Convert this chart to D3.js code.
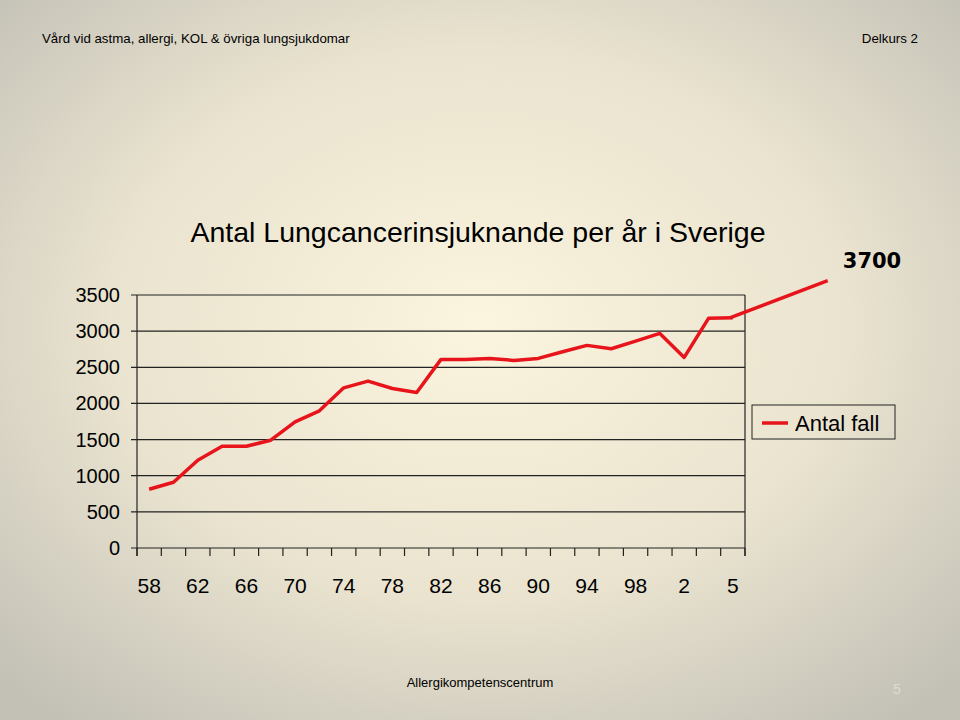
<!DOCTYPE html>
<html><head><meta charset="utf-8">
<script src="https://cdn.jsdelivr.net/npm/d3@7"></script>
<style>body{margin:0}svg{display:block}</style></head>
<body><svg id="c" width="960" height="720"></svg>
<script>
const categories = ["58","60","62","64","66","68","70","72","74","76","78","80","82","84","86","88","90","92","94","96","98","00","2","03","5"];
const tickLabels = ["58","62","66","70","74","78","82","86","90","94","98","2","5"];
const values = [813,910,1214,1408,1408,1491,1745,1898,2216,2309,2207,2152,2609,2609,2623,2595,2623,2715,2803,2757,2863,2969,2637,3177,3186];
const projection = [[23.9,3186],[27.9,3700]];
const yTicks = [0,500,1000,1500,2000,2500,3000,3500];

const svg = d3.select("#c");
const defs = svg.append("defs");
const g = defs.append("radialGradient").attr("id","bg").attr("cx","50%").attr("cy","45%").attr("r","70%");
g.append("stop").attr("offset","0%").attr("stop-color","#fbf5df");
g.append("stop").attr("offset","55%").attr("stop-color","#e9e3cf");
g.append("stop").attr("offset","100%").attr("stop-color","#c3c0b6");
svg.append("rect").attr("width",960).attr("height",720).attr("fill","url(#bg)");

const F = "Liberation Sans, Arial, sans-serif";
svg.append("text").attr("x",42).attr("y",43).attr("font-family",F).attr("font-size",13.3).text("Vård vid astma, allergi, KOL & övriga lungsjukdomar");
svg.append("text").attr("x",918).attr("y",43).attr("text-anchor","end").attr("font-family",F).attr("font-size",13.3).text("Delkurs 2");
svg.append("text").attr("x",478).attr("y",242).attr("text-anchor","middle").attr("font-family",F).attr("font-size",28.5).text("Antal Lungcancerinsjuknande per år i Sverige");
svg.append("text").attr("x",480).attr("y",687).attr("text-anchor","middle").attr("font-family",F).attr("font-size",13).text("Allergikompetenscentrum");
svg.append("text").attr("x",897).attr("y",694).attr("text-anchor","middle").attr("font-family",F).attr("font-size",14).attr("fill","#e0dccd").text("5");

const L=137,R=745,T=295,B=548;
const n=categories.length, step=(R-L)/n;
const x = d3.scaleLinear().domain([0,1]).range([L+step/2,L+step*1.5]);
const y = d3.scaleLinear().domain([0,3500]).range([B,T]);

svg.append("g").selectAll("line").data(yTicks).join("line")
 .attr("x1",L-6).attr("x2",R).attr("y1",d=>y(d)).attr("y2",d=>y(d)).attr("stroke","#222").attr("stroke-width",1.2);
svg.append("line").attr("x1",L).attr("x2",L).attr("y1",T).attr("y2",B+8).attr("stroke","#222").attr("stroke-width",1.2);
svg.append("line").attr("x1",R).attr("x2",R).attr("y1",T).attr("y2",B+8).attr("stroke","#222").attr("stroke-width",1.2);
svg.append("g").selectAll("line").data(d3.range(n+1)).join("line")
 .attr("x1",i=>L+i*step).attr("x2",i=>L+i*step).attr("y1",B).attr("y2",B+8).attr("stroke","#222").attr("stroke-width",1.2);
svg.append("g").selectAll("text").data(yTicks).join("text")
 .attr("x",120).attr("y",d=>y(d)+7).attr("text-anchor","end").attr("font-family",F).attr("font-size",20).text(d=>d);
svg.append("g").selectAll("text").data(tickLabels).join("text")
 .attr("x",(d,i)=>x(i*2)).attr("y",593).attr("text-anchor","middle").attr("font-family",F).attr("font-size",21).text(d=>d);

const line = d3.line().x((d,i)=>x(i)).y(d=>y(d));
svg.append("path").attr("d",line(values)).attr("fill","none").attr("stroke","#e8141b").attr("stroke-width",3.5).attr("stroke-linejoin","round");
svg.append("path").attr("d",d3.line().x(d=>x(d[0])).y(d=>y(d[1]))(projection)).attr("fill","none").attr("stroke","#e8141b").attr("stroke-width",3.5);
svg.append("text").attr("x",872).attr("y",268).attr("text-anchor","middle").attr("font-family","DejaVu Sans, sans-serif").attr("font-weight","bold").attr("font-size",21).text("3700");

svg.append("rect").attr("x",752).attr("y",405).attr("width",143).attr("height",34).attr("fill","none").attr("stroke","#222").attr("stroke-width",1);
svg.append("line").attr("x1",762).attr("x2",788).attr("y1",423).attr("y2",423).attr("stroke","#e8141b").attr("stroke-width",3.5);
svg.append("text").attr("x",795).attr("y",431).attr("font-family",F).attr("font-size",22).text("Antal fall");
</script></body></html>
